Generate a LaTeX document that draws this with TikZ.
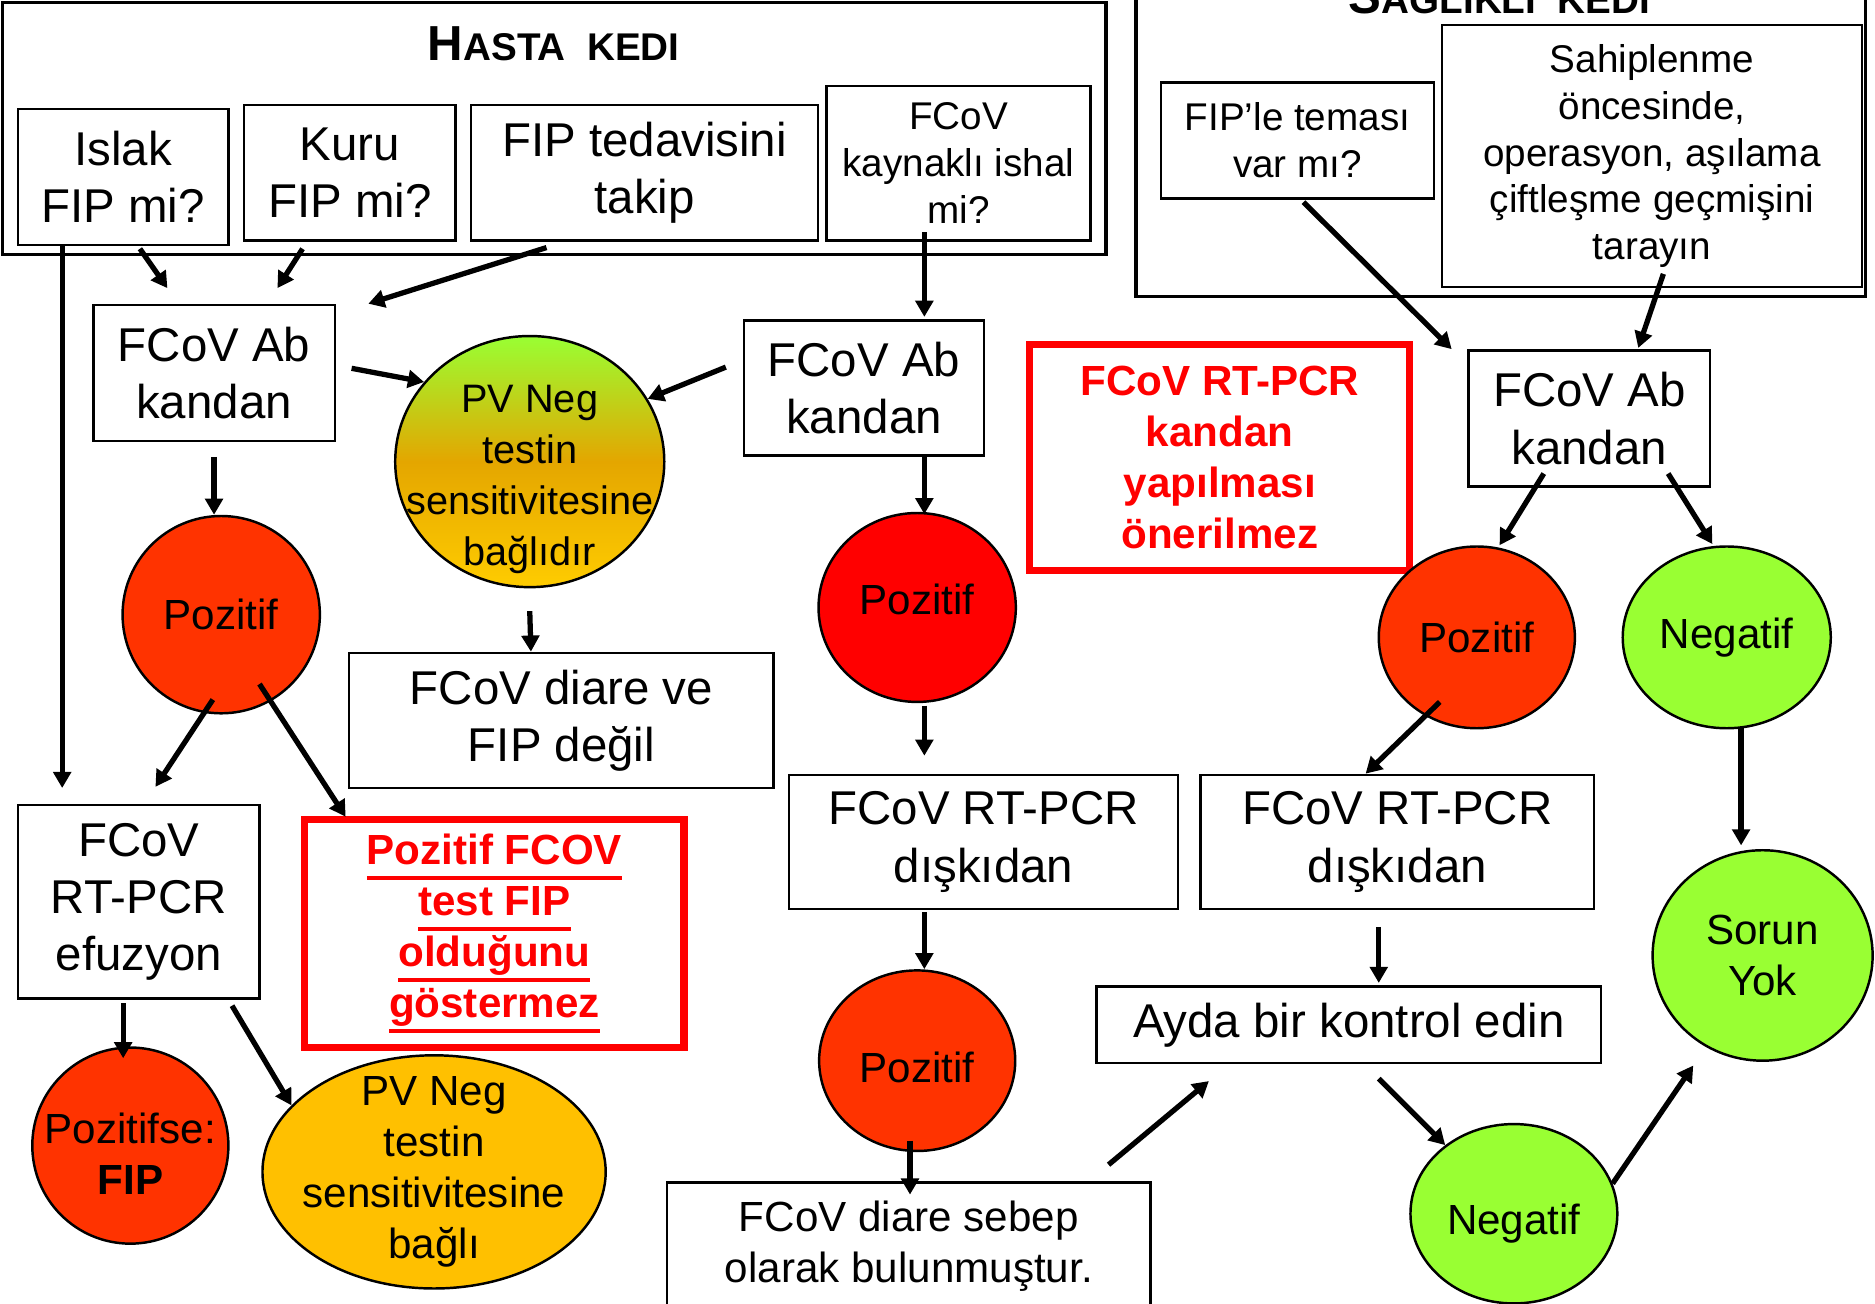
\documentclass[tikz,border=0pt]{standalone}
\usepackage{fontspec}
\setmainfont{Liberation Sans}
\usetikzlibrary{shapes.geometric, arrows.meta}
\definecolor{kirmizituruncu}{RGB}{255, 51, 0}
\definecolor{tamkirmizi}{RGB}{255, 0, 0}
\definecolor{acikyesil}{RGB}{153, 255, 51}
\definecolor{koyusari}{RGB}{255, 192, 0}
\definecolor{gecisturuncu}{RGB}{228, 166, 0}
\definecolor{gecissari}{RGB}{255, 204, 0}
\newlength{\px}
\setlength{\px}{0.011958cm}
\newcommand{\buyuk}{\fontsize{13.5}{16.3}\selectfont}
\newcommand{\orta}{\fontsize{12}{14.5}\selectfont}
\newcommand{\kucuk}{\fontsize{11}{13.3}\selectfont}
\newsavebox{\altkutu}
\newcommand{\altciz}[1]{\sbox{\altkutu}{#1}\rlap{\rule[-4.3pt]{\wd\altkutu}{1.1pt}}\usebox{\altkutu}}

\begin{document}
\begin{tikzpicture}[
    x=0.011958cm, y=-0.011958cm,
    kutu/.style={rectangle, draw=black, line width=0.7pt, inner sep=0pt, align=center, font=\buyuk},
    cerceve/.style={rectangle, draw=black, line width=1pt, inner sep=0pt},
    daire/.style={ellipse, draw=black, line width=0.7pt, inner sep=0pt},
    dyazi/.style={align=center, font=\orta},
    uyari/.style={rectangle, draw=tamkirmizi, line width=2pt, inner sep=0pt, align=center, text=tamkirmizi, font=\orta\bfseries},
    baslik/.style={anchor=base, font=\bfseries},
    ok/.style={-{Triangle[length=4.6pt, width=5pt]}, line width=1.5pt},
]
\path[use as bounding box, fill=white] (0,0) rectangle (1568,1090);

% Hasta kedi
\node[cerceve, minimum width=923\px, minimum height=211\px] (hasta) at (463.5,107.5) {};
\node[baslik] (hastaBaslik) at (463,51) {{\fontsize{14}{14}\selectfont H}{\fontsize{11}{11}\selectfont ASTA\ \ KEDI}};
\node[kutu, minimum width=176\px, minimum height=114\px] (islak) at (103,148) {Islak\\FIP mi?};
\node[kutu, minimum width=177\px, minimum height=113\px] (kuru) at (292.5,144.5) {Kuru\\FIP mi?};
\node[kutu, minimum width=290\px, minimum height=113\px] (tedavi) at (539,144.5) {FIP tedavisini\\takip};
\node[kutu, font=\kucuk, minimum width=221\px, minimum height=129\px] (kaynak) at (801.5,136.5) {FCoV\\kaynaklı ishal\\mi?};

% Saglikli kedi
\node[cerceve, minimum width=610\px, minimum height=300\px] (saglikli) at (1255,98) {};
\node[baslik] (saglikliBaslik) at (1254,11) {{\fontsize{14}{14}\selectfont S}{\fontsize{11}{11}\selectfont AĞLIKLI\ \ KEDI}};
\node[kutu, font=\kucuk, minimum width=228\px, minimum height=97\px] (temas) at (1085,117.5) {FIP’le teması\\var mı?};
\node[kutu, font=\kucuk, minimum width=351\px, minimum height=219\px] (sahip) at (1381.5,130.5) {Sahiplenme\\öncesinde,\\operasyon, aşılama\\çiftleşme geçmişini\\tarayın};

% Kan testleri
\node[kutu, minimum width=202\px, minimum height=114\px] (abL) at (179,312) {FCoV Ab\\kandan};
\node[daire, top color=acikyesil, bottom color=gecissari, middle color=gecisturuncu, minimum width=225\px, minimum height=210\px,
    label={[dyazi, font=\fontsize{11.3}{14.5}\selectfont, yshift=-15\px]center:PV Neg\\testin\\sensitivitesine\\bağlıdır}] (pvneg1) at (443,386) {};
\node[kutu, minimum width=201\px, minimum height=113\px] (abM) at (722.5,324.5) {FCoV Ab\\kandan};
\node[uyari, minimum width=318\px, minimum height=189\px] (uyari1) at (1020,382.5) {FCoV RT-PCR\\kandan\\yapılması\\önerilmez};
\node[kutu, minimum width=202\px, minimum height=114\px] (abR) at (1329,350) {FCoV Ab\\kandan};

% Sonuclar
\node[daire, fill=kirmizituruncu, minimum width=165\px, minimum height=165\px, label={[dyazi]center:Pozitif}] (pozL) at (185,514) {};
\node[kutu, minimum width=355\px, minimum height=113\px] (diare1) at (469.5,602.5) {FCoV diare ve\\FIP değil};
\node[daire, fill=tamkirmizi, minimum width=165\px, minimum height=158\px, label={[dyazi, yshift=7\px]center:Pozitif}] (pozM) at (767,508) {};
\node[daire, fill=kirmizituruncu, minimum width=164\px, minimum height=152\px, label={[dyazi]center:Pozitif}] (pozR) at (1235,533) {};
\node[daire, fill=acikyesil, minimum width=174\px, minimum height=152\px, label={[dyazi]center:Negatif}] (negR) at (1444,533) {};

% PCR
\node[kutu, minimum width=202\px, minimum height=162\px] (efz) at (116,754) {FCoV\\RT-PCR\\efuzyon};
\node[uyari, minimum width=317\px, minimum height=191\px] (uyari2) at (413.5,780.5) {\altciz{Pozitif FCOV}\\\altciz{test FIP}\\\altciz{olduğunu}\\\altciz{göstermez}};
\node[kutu, minimum width=325\px, minimum height=112\px] (diskM) at (822.5,704) {FCoV RT-PCR\\dışkıdan};
\node[kutu, minimum width=329\px, minimum height=112\px] (diskR) at (1168.5,704) {FCoV RT-PCR\\dışkıdan};
\node[daire, fill=acikyesil, minimum width=184\px, minimum height=176\px, label={[dyazi]center:Sorun\\Yok}] (sorun) at (1474,799) {};

% Alt sira
\node[daire, fill=kirmizituruncu, minimum width=164\px, minimum height=151\px, label={[dyazi, yshift=-6\px]center:Pozitif}] (pozM2) at (767,887) {};
\node[kutu, minimum width=422\px, minimum height=64\px] (ayda) at (1128,857) {Ayda bir kontrol edin};
\node[daire, fill=kirmizituruncu, minimum width=164\px, minimum height=164\px, label={[dyazi, yshift=-7\px]center:Pozitifse:\\\textbf{FIP}}] (fip) at (109,958) {};
\node[daire, fill=koyusari, minimum width=287\px, minimum height=195\px, label={[dyazi]center:PV Neg\\testin\\sensitivitesine\\bağlı}] (pvneg2) at (363,980) {};
\node[kutu, font=\orta, minimum width=404\px, minimum height=106\px] (sebep) at (760,1042) {FCoV diare sebep\\olarak bulunmuştur.};
\node[daire, fill=acikyesil, minimum width=173\px, minimum height=150\px, label={[dyazi, yshift=-8\px]center:Negatif}] (negB) at (1266,1015) {};

% Oklar
\draw[ok] ([xshift=-51\px]islak.south) -- ([xshift=-64\px, yshift=13\px]efz.north);
\draw[ok] ([xshift=14\px, yshift=-2\px]islak.south) -- ([xshift=-39\px, yshift=13\px]abL.north);
\draw[ok] ([xshift=-39.5\px, yshift=-6\px]kuru.south) -- ([xshift=53\px, yshift=13\px]abL.north);
\draw[ok] ([xshift=-82\px, yshift=-5\px]tedavi.south) -- ([xshift=27\px]abL.north east);
\draw[ok] ([xshift=-28.5\px, yshift=8\px]kaynak.south) -- ([xshift=50.5\px, yshift=2\px]abM.north);
\draw[ok] ([xshift=13\px, yshift=4\px]abL.east) -- (pvneg1.143);
\draw[ok] ([xshift=-14\px, yshift=17.5\px]abM.west) -- (pvneg1.28);
\draw[ok] ([yshift=-12\px]abL.south) -- ([xshift=-6\px]pozL.north);
\draw[ok] ([yshift=-19\px]pvneg1.south) -- ([xshift=-25.5\px]diare1.north);
\draw[ok] ([xshift=50.5\px]abM.south) -- ([xshift=6\px, yshift=-2\px]pozM.north);
\draw[ok] ([xshift=-7\px, yshift=12.5\px]pozL.south) -- ([xshift=14\px, yshift=14\px]efz.north);
\draw[ok] ([xshift=32\px, yshift=25.5\px]pozL.south) -- ([xshift=37\px, yshift=-1\px]uyari2.north west);
\draw[ok] ([xshift=6\px, yshift=-2\px]pozM.south) -- ([xshift=-49.5\px, yshift=15\px]diskM.north);
\draw[ok] ([xshift=5\px, yshift=-2\px]temas.south) -- ([xshift=-13\px]abR.north west);
\draw[ok] ([xshift=9.5\px, yshift=12\px]sahip.south) -- ([xshift=41\px, yshift=1\px]abR.north);
\draw[ok] ([xshift=-38\px, yshift=12\px]abR.south) -- ([xshift=19\px]pozR.north);
\draw[ok] ([xshift=66\px, yshift=12\px]abR.south) -- ([xshift=-12\px, yshift=1\px]negR.north);
\draw[ok] ([xshift=-31\px, yshift=23\px]pozR.south) -- ([xshift=-26.5\px]diskR.north);
\draw[ok] ([xshift=12\px, yshift=1\px]negR.south) -- ([xshift=-18\px, yshift=3\px]sorun.north);
\draw[ok] ([xshift=-49.5\px, yshift=-2\px]diskM.south) -- ([xshift=6\px]pozM2.north);
\draw[ok] ([xshift=-15.5\px, yshift=-14\px]diskR.south) -- ([xshift=25\px, yshift=2\px]ayda.north);
\draw[ok] ([xshift=-13\px, yshift=-3\px]efz.south) -- ([xshift=-6\px, yshift=-10\px]fip.north);
\draw[ok] ([xshift=-24\px, yshift=-5\px]efz.south east) -- (pvneg2.155);
\draw[ok] ([xshift=-6\px, yshift=9.5\px]pozM2.south) -- ([xshift=1\px, yshift=-11\px]sebep.north);
\draw[ok] ([xshift=-36\px, yshift=14\px]sebep.north east) -- ([xshift=95\px, yshift=-14\px]ayda.south west);
\draw[ok] ([xshift=25\px, yshift=-12\px]ayda.south) -- (negB.135);
\draw[ok] (negB.17) -- ([xshift=-58\px, yshift=-3\px]sorun.south);

\end{tikzpicture}
\end{document}
